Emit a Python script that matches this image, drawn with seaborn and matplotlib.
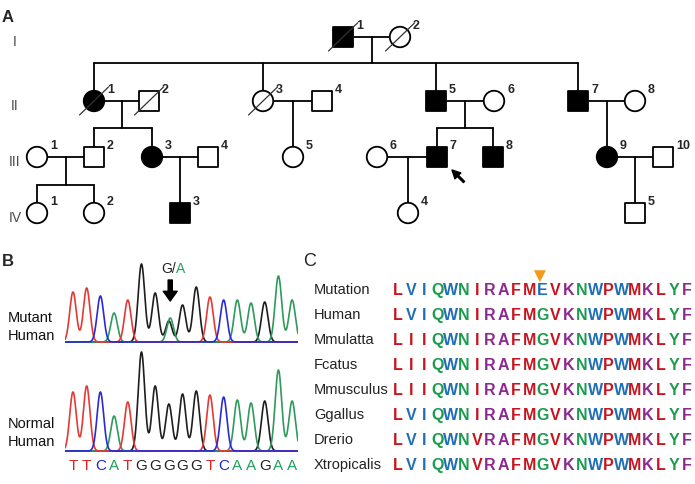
import numpy as np
import pandas as pd
import matplotlib
matplotlib.use("Agg")
import matplotlib.pyplot as plt
import seaborn as sns

# ---------------- data ----------------
# Panel A: pedigree
ped_id = ['I-1', 'I-2',
          'II-1', 'II-2', 'II-3', 'II-4', 'II-5', 'II-6', 'II-7', 'II-8',
          'III-1', 'III-2', 'III-3', 'III-4', 'III-5', 'III-6', 'III-7', 'III-8', 'III-9', 'III-10',
          'IV-1', 'IV-2', 'IV-3', 'IV-4', 'IV-5']
ped_col = [343, 400,
           94, 149, 263, 322, 436, 494, 578, 635,
           37, 94, 152, 208, 293, 377, 437, 493, 607, 663,
           37, 94, 180, 408, 635]
ped_sex = ['M', 'F',
           'F', 'M', 'F', 'M', 'M', 'F', 'M', 'F',
           'F', 'M', 'F', 'M', 'F', 'F', 'M', 'M', 'F', 'M',
           'F', 'F', 'M', 'F', 'M']
ped_affected = [1, 0,
                1, 0, 0, 0, 1, 0, 1, 0,
                0, 0, 1, 0, 0, 0, 1, 1, 1, 0,
                0, 0, 1, 0, 0]
ped_deceased = [1, 1,
                1, 1, 1, 0, 0, 0, 0, 0,
                0, 0, 0, 0, 0, 0, 0, 0, 0, 0,
                0, 0, 0, 0, 0]
couples = [('I-1', 'I-2', ['II-1', 'II-3', 'II-5', 'II-7']),
           ('II-1', 'II-2', ['III-2', 'III-3']),
           ('II-3', 'II-4', ['III-5']),
           ('II-5', 'II-6', ['III-7', 'III-8']),
           ('II-7', 'II-8', ['III-9']),
           ('III-1', 'III-2', ['IV-1', 'IV-2']),
           ('III-3', 'III-4', ['IV-3']),
           ('III-6', 'III-7', ['IV-4']),
           ('III-9', 'III-10', ['IV-5'])]
proband = 'III-7'
generations = ['I', 'II', 'III', 'IV']

# Panel B: chromatogram
bases = list('TTCATGGGGGTCAAGAA')
mutant_heights = [50, 54, 46, 29, 42, 78, 49, 21, 37, 55, 45, 42, 42, 39, 40, 66, 42]
mutant_alt_pos = [8]
mutant_alt_base = ['A']
mutant_alt_height = [24]
normal_heights = [59, 65, 59, 35, 49, 99, 65, 47, 57, 60, 56, 54, 51, 48, 50, 81, 50]

# Panel C: alignment
species = ['Mutation', 'Human', 'Mmulatta', 'Fcatus', 'Mmusculus',
           'Ggallus', 'Drerio', 'Xtropicalis']
sequences = ['LVIQWNIRAFMEVKNWPWMKLYF',
             'LVIQWNIRAFMGVKNWPWMKLYF',
             'LIIQWNIRAFMGVKNWPWMKLYF',
             'LIIQWNIRAFMGVKNWPWMKLYF',
             'LIIQWNIRAFMGVKNWPWMKLYF',
             'LVIQWNIRAFMGVKNWPWMKLYF',
             'LVIQWNVRAFMGVKNWPWMKLYF',
             'LVIQWNVRAFMGVKNWPWMKLYF']
residue_classes = ['rbbgbgrpprrbrpgbrbrprgp',
                   'rbbgbgrpprrgrpgbrbrprgp',
                   'rrrgbgrpprrgrpgbrbrprgp',
                   'rrrgbgrpprrgrpgbrbrprgp',
                   'rrrgbgrpprrgrpgbrbrprgp',
                   'rbbgbgrpprrgrpgbrbrprgp',
                   'rbbgbgrpprrgrpgbrbrprgp',
                   'rbbgbgrpprrgrpgbrbrprgp']
mutation_column = 11

# ---------------- style ----------------
sns.set_theme(style='white')
plt.rcParams['font.family'] = ['Liberation Sans', 'DejaVu Sans']

W, H = 695, 484
fig = plt.figure(figsize=(W / 100, H / 100), dpi=100)


def rect(l, t, r, b):
    return [l / W, 1 - b / H, (r - l) / W, (b - t) / H]


# ---------------- Panel A ----------------
ax0 = fig.add_axes([0, 0, 1, 1])
ax0.patch.set_alpha(0)
GEN_Y = {'I': 37, 'II': 101, 'III': 157, 'IV': 213}
SIB_Y = {'II': 63, 'III': 128, 'IV': 185}
R = 10.5
LW = 1.3

ped = pd.DataFrame({'id': ped_id, 'x': ped_col, 'sex': ped_sex,
                    'affected': ped_affected, 'deceased': ped_deceased})
ped['gen'] = ped['id'].str.split('-').str[0]
ped['num'] = ped['id'].str.split('-').str[1]
ped['y'] = ped['gen'].map(GEN_Y)
ped['status'] = np.where(ped['affected'] == 1, 'aff', 'unaff')
pos = {r.id: (r.x, r.y) for r in ped.itertuples()}

for p1, p2, kids in couples:
    (x1, y1), (x2, y2) = pos[p1], pos[p2]
    ax0.plot([x1 + R, x2 - R], [y1, y1], color='black', lw=LW, zorder=2)
    mid = (x1 + x2) / 2
    if len(kids) == 1:
        cx, cy = pos[kids[0]]
        ax0.plot([cx, cx], [y1, cy - R], color='black', lw=LW, zorder=2)
    else:
        g = kids[0].split('-')[0]
        sy = SIB_Y[g]
        ax0.plot([mid, mid], [y1, sy], color='black', lw=LW, zorder=2)
        xs = [pos[k][0] for k in kids]
        ax0.plot([min(xs), max(xs)], [sy, sy], color='black', lw=LW, zorder=2)
        for k in kids:
            cx, cy = pos[k]
            ax0.plot([cx, cx], [sy, cy - R], color='black', lw=LW, zorder=2)

for sex, mk in [('M', 's'), ('F', 'o')]:
    sub = ped[ped['sex'] == sex]
    sns.scatterplot(data=sub, x='x', y='y', hue='status',
                    palette={'aff': 'black', 'unaff': 'white'},
                    marker=mk, s=218, edgecolor='black', linewidth=LW,
                    legend=False, ax=ax0, zorder=3)

for r in ped.itertuples():
    if r.deceased:
        ax0.plot([r.x - 14.5, r.x + 14.5], [r.y + 14, r.y - 14],
                 color='#333333', lw=0.9, zorder=4)
    ax0.text(r.x + 13, r.y - 11, r.num, fontsize=9, fontweight='bold',
             ha='left', va='center', zorder=5)

for g in generations:
    ax0.text(15, GEN_Y[g] + 5, g, fontsize=10, color='#4a4a4a',
             ha='center', va='center')

px, py = pos[proband]
ax0.annotate('', xy=(px + 15, py + 13), xytext=(px + 27, py + 25),
             arrowprops=dict(facecolor='black', edgecolor='black', width=1.2,
                             headwidth=6, headlength=6, shrink=0))

ax0.text(8, 18, 'A', fontsize=12, fontweight='bold', ha='center', va='center')
ax0.text(8, 262, 'B', fontsize=12, fontweight='bold', ha='center', va='center')
ax0.text(310, 262, 'C', fontsize=13, ha='center', va='center')

ax0.text(8, 318, 'Mutant', fontsize=10.5, ha='left', va='center', color='#111111')
ax0.text(8, 336, 'Human', fontsize=10.5, ha='left', va='center', color='#111111')
ax0.text(8, 424, 'Normal', fontsize=10.5, ha='left', va='center', color='#111111')
ax0.text(8, 442, 'Human', fontsize=10.5, ha='left', va='center', color='#111111')

ax0.set_xlim(0, W)
ax0.set_ylim(H, 0)
ax0.axis('off')

# ---------------- Panel B ----------------
trace_colors = {'T': '#e53935', 'C': '#2a2ad8', 'A': '#2e9a5c', 'G': '#1e1e1e'}
letter_colors = {'T': '#e02424', 'C': '#2424d0', 'A': '#22a05a', 'G': '#222222'}
SIG = 0.24


def trace_frame(heights, alt_pos, alt_base, alt_h):
    xs = np.linspace(0.42, 17.43, 1500)
    frames = []
    for ch in ['G', 'A', 'T', 'C']:
        y = np.zeros_like(xs)
        for i, (b, h) in enumerate(zip(bases, heights)):
            if b == ch:
                y += h * np.exp(-0.5 * ((xs - (i + 1)) / SIG) ** 2)
        for p, b, h in zip(alt_pos, alt_base, alt_h):
            if b == ch:
                y += h * np.exp(-0.5 * ((xs - p - 0.1) / SIG) ** 2)
        frames.append(pd.DataFrame({'pos': xs, 'signal': y, 'base': ch}))
    return pd.concat(frames, ignore_index=True)


ax_m = fig.add_axes(rect(65, 255, 298, 345))
ax_n = fig.add_axes(rect(65, 345, 298, 455))
for ax, df, (lo, hi) in [(ax_m, trace_frame(mutant_heights, mutant_alt_pos, mutant_alt_base, mutant_alt_height), (-3, 87)),
                         (ax_n, trace_frame(normal_heights, [], [], []), (-4, 106))]:
    ax.patch.set_alpha(0)
    sns.lineplot(data=df, x='pos', y='signal', hue='base', hue_order=['G', 'A', 'T', 'C'],
                 palette=trace_colors, estimator=None, sort=False, legend=False,
                 lw=1.2, ax=ax)
    ax.set_xlim(0.416, 17.43)
    ax.set_ylim(lo, hi)
    ax.axis('off')

for i, b in enumerate(bases):
    ax_n.text(i + 1, -15, b, fontsize=11, color=letter_colors[b],
              ha='center', va='center', clip_on=False)

mp = mutant_alt_pos[0]
ax_m.text(mp + 0.5, 73, 'G/', fontsize=10, ha='right', va='center', color='#222222')
ax_m.text(mp + 0.5, 73, mutant_alt_base[0], fontsize=10, ha='left', va='center',
          color=letter_colors[mutant_alt_base[0]])
ax_m.annotate('', xy=(mp + 0.1, 41), xytext=(mp + 0.1, 62),
              arrowprops=dict(facecolor='black', edgecolor='black', width=3,
                              headwidth=10, headlength=7, shrink=0),
              annotation_clip=False)

# ---------------- Panel C ----------------
aa_colors = {'r': '#c8141e', 'b': '#1f6fb6', 'g': '#1b9c4e', 'p': '#8c2a90'}
ax_c = fig.add_axes(rect(391.4, 277.5, 693.6, 477.5))
ax_c.patch.set_alpha(0)
for i, (name, seq, cls) in enumerate(zip(species, sequences, residue_classes)):
    ax_c.text(-6.39, i, name, fontsize=10.5, color='#222222', ha='left', va='center',
              clip_on=False)
    for j, (aa, c) in enumerate(zip(seq, cls)):
        ax_c.text(j, i + 0.02, aa, fontsize=11.5, fontweight='bold', color=aa_colors[c],
                  ha='center', va='center')
sns.scatterplot(x=[mutation_column - 0.2], y=[-0.55], marker='v', s=75, color='#f39a1c',
                edgecolor='none', ax=ax_c, legend=False, clip_on=False, zorder=5)
ax_c.set_xlim(-0.5, 22.5)
ax_c.set_ylim(7.5, -0.5)
ax_c.axis('off')

fig.savefig('out.png', dpi=100)
